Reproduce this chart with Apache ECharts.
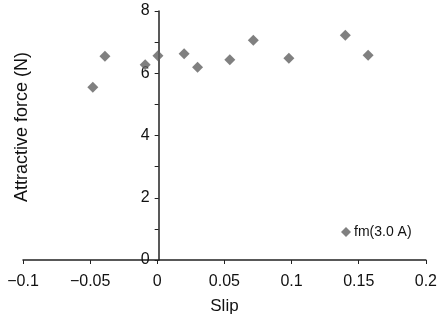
<!DOCTYPE html>
<html>
<head>
<meta charset="utf-8">
<script src="https://cdn.jsdelivr.net/npm/echarts@6/dist/echarts.min.js"></script>
<style>
  html, body { margin: 0; padding: 0; background: #fff; }
  #main { width: 440px; height: 320px; }
</style>
</head>
<body>
<div id="main"></div>
<script>
const slip = [-0.048, -0.039, -0.009, 0.0005, 0.020, 0.030, 0.054, 0.0715, 0.098, 0.140, 0.157];
const force = [5.55, 6.55, 6.27, 6.56, 6.63, 6.19, 6.43, 7.06, 6.48, 7.22, 6.58];
const seriesName = 'fm(3.0 A)';

const points = slip.map((s, i) => [s, force[i]]);

const chart = echarts.init(document.getElementById('main'));

// y axis sits at slip = 0: 1/3 of the way across the 407px plot
const yAxisShift = -407 / 3;

const option = {
  animation: false,
  textStyle: { fontFamily: 'Liberation Sans' },
  grid: { left: 23, right: 10, top: 11, bottom: 56 },
  legend: {
    data: [seriesName],
    left: 336,
    top: 220,
    icon: 'diamond',
    itemWidth: 10,
    itemHeight: 10,
    itemGap: 4,
    textStyle: { fontSize: 14, color: '#111', padding: [0, 0, 0, -2] },
  },
  xAxis: {
    type: 'value',
    min: -0.1,
    max: 0.2,
    interval: 0.05,
    name: 'Slip',
    nameLocation: 'middle',
    nameGap: 38,
    nameTextStyle: { fontSize: 17, color: '#111' },
    splitLine: { show: false },
    axisLine: { onZero: false, lineStyle: { color: '#222', width: 1.5 } },
    axisTick: { length: 4, lineStyle: { color: '#222' } },
    axisLabel: {
      fontSize: 16,
      color: '#111',
      margin: 14,
      formatter: (v) => (v < 0 ? '\u2212' + String(-v) : String(v)),
    },
  },
  yAxis: {
    type: 'value',
    min: 0,
    max: 8,
    interval: 1,
    offset: yAxisShift,
    splitLine: { show: false },
    axisLine: { onZero: false, lineStyle: { color: '#222', width: 1.5 } },
    axisTick: { length: 4, lineStyle: { color: '#222' } },
    axisLabel: {
      fontSize: 16,
      color: '#111',
      margin: 9,
      padding: [5, 0, 0, 0],
      formatter: (v) => (v % 2 === 0 ? String(v) : ''),
    },
  },
  graphic: [
    {
      type: 'text',
      x: 22,
      y: 127,
      rotation: Math.PI / 2,
      style: {
        text: 'Attractive force (N)',
        fontSize: 18,
        fontFamily: 'Liberation Sans',
        fill: '#111',
        align: 'center',
        verticalAlign: 'middle',
      },
    },
  ],
  series: [
    {
      name: seriesName,
      type: 'scatter',
      data: points,
      symbol: 'diamond',
      symbolSize: 11,
      itemStyle: { color: '#606060' },
    },
  ],
};

chart.setOption(option);
</script>
</body>
</html>
